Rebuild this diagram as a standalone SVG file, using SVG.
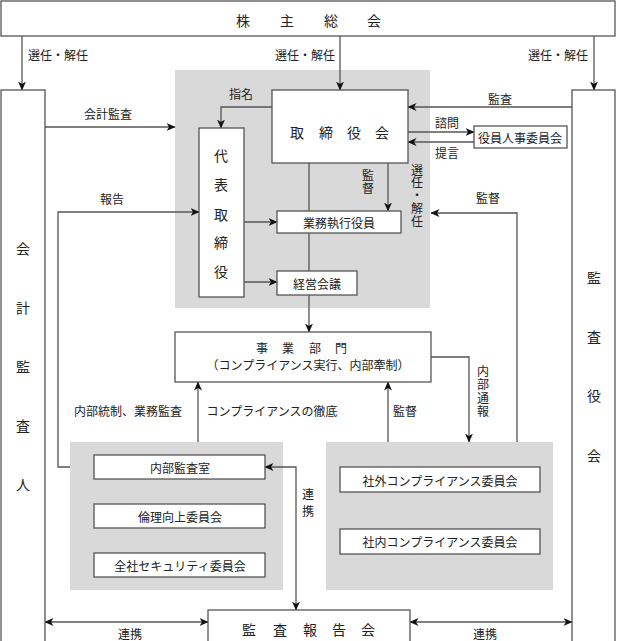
<svg xmlns="http://www.w3.org/2000/svg" width="617" height="641" viewBox="0 0 617 641">
<defs>
<style>
text{font-family:"Noto Sans CJK JP","Noto Sans CJK SC",sans-serif;fill:#222;font-size:12px;text-anchor:middle;dominant-baseline:central}
.big{font-size:14px}
.v{writing-mode:vertical-rl;glyph-orientation-vertical:0}
.box{fill:#fff;stroke:#555;stroke-width:1.3}
.grp{fill:#d9d9d9;stroke:none}
.ln{fill:none;stroke:#555;stroke-width:1.3}
.a{marker-end:url(#ah)}
.aa{marker-end:url(#ah);marker-start:url(#ah)}
</style>
<marker id="ah" viewBox="0 0 9 8" refX="8.5" refY="4" markerWidth="9" markerHeight="8" markerUnits="userSpaceOnUse" orient="auto-start-reverse">
<path d="M0,0 L9,4 L0,8 L2.5,4 z" fill="#111"/>
</marker>
</defs>
<rect width="617" height="641" fill="#fff"/>

<g id="groups">
<rect class="grp" x="175" y="70" width="255" height="238"/>
<rect class="grp" x="70" y="442" width="213" height="148"/>
<rect class="grp" x="326" y="442" width="227" height="148"/>
</g>

<g id="connectors">
<path class="ln a" d="M22,36 V90"/>
<path class="ln a" d="M340,36 V90"/>
<path class="ln a" d="M594,36 V90"/>
<path class="ln a" d="M272,107 H221 V128"/>
<path class="ln a" d="M45,127 H175"/>
<path class="ln a" d="M70,467 H58 V212 H199"/>
<path class="ln a" d="M572,107 H408"/>
<path class="ln a" d="M408,132 H474"/>
<path class="ln a" d="M474,142 H408"/>
<path class="ln a" d="M388,163 V211"/>
<path class="ln" d="M309,163 V211 M309,233 V271"/>
<path class="ln a" d="M309,295 V332"/>
<path class="ln a" d="M244,222 H277"/>
<path class="ln a" d="M244,282 H277"/>
<path class="ln a" d="M517,442 V213 H431"/>
<path class="ln a" d="M431,357 H469 V442"/>
<path class="ln a" d="M388,442 V382"/>
<path class="ln a" d="M198,442 V382"/>
<path class="ln aa" d="M296,610 V467 H265"/>
<path class="ln aa" d="M45,622 H208"/>
<path class="ln aa" d="M410,622 H572"/>
</g>

<g id="labels">
<text x="58" y="54">選任・解任</text>
<text x="305" y="54">選任・解任</text>
<text x="558" y="54">選任・解任</text>
<text x="241" y="93">指名</text>
<text x="108" y="113">会計監査</text>
<text x="112" y="198">報告</text>
<text x="500" y="98">監査</text>
<text x="447" y="122">諮問</text>
<text x="447" y="152">提言</text>
<text class="v" x="368" y="182" style="letter-spacing:1px">監督</text>
<text class="v" x="417" y="196" style="letter-spacing:0.8px">選任・解任</text>
<text x="488" y="197">監督</text>
<text class="v" x="483" y="392" style="letter-spacing:1.3px">内部通報</text>
<text x="128" y="410">内部統制、業務監査</text>
<text x="272" y="410">コンプライアンスの徹底</text>
<text x="405" y="410">監督</text>
<text class="v" x="308" y="505" style="letter-spacing:5px">連携</text>
<text x="130" y="633">連携</text>
<text x="485" y="633">連携</text>
</g>

<g id="shareholders">
<rect class="box" x="1" y="1" width="614" height="35"/>
<text class="big" x="243" y="20">株</text>
<text class="big" x="287" y="20">主</text>
<text class="big" x="331" y="20">総</text>
<text class="big" x="374" y="20">会</text>
</g>

<g id="accounting-auditor">
<rect class="box" x="1" y="90" width="44" height="560"/>
<text class="big" x="23" y="248">会</text>
<text class="big" x="23" y="307">計</text>
<text class="big" x="23" y="366">監</text>
<text class="big" x="23" y="425">査</text>
<text class="big" x="23" y="484">人</text>
</g>

<g id="audit-board">
<rect class="box" x="572" y="90" width="43" height="560"/>
<text class="big" x="594" y="277">監</text>
<text class="big" x="594" y="336">査</text>
<text class="big" x="594" y="395">役</text>
<text class="big" x="594" y="455">会</text>
</g>

<g id="board">
<rect class="box" x="272" y="90" width="136" height="73"/>
<text class="big" x="297" y="132">取</text>
<text class="big" x="326" y="132">締</text>
<text class="big" x="354" y="132">役</text>
<text class="big" x="382" y="132">会</text>
</g>

<g id="representative">
<rect class="box" x="199" y="128" width="45" height="169"/>
<text class="big" x="221" y="155">代</text>
<text class="big" x="221" y="184">表</text>
<text class="big" x="221" y="214">取</text>
<text class="big" x="221" y="242">締</text>
<text class="big" x="221" y="271">役</text>
</g>

<g id="executive-officers">
<rect class="box" x="277" y="211" width="124" height="22"/>
<text x="339" y="222">業務執行役員</text>
</g>

<g id="management-meeting">
<rect class="box" x="277" y="271" width="80" height="24"/>
<text x="317" y="283">経営会議</text>
</g>

<g id="nomination-committee">
<rect class="box" x="474" y="126" width="93" height="22"/>
<text x="520" y="137">役員人事委員会</text>
</g>

<g id="business-division">
<rect class="box" x="175" y="332" width="256" height="50"/>
<text x="262" y="347">事</text>
<text x="288" y="347">業</text>
<text x="315" y="347">部</text>
<text x="341" y="347">門</text>
<text x="308" y="364">（コンプライアンス実行、内部牽制）</text>
</g>

<g id="internal-audit">
<rect class="box" x="94" y="455" width="171" height="24"/>
<text x="180" y="467">内部監査室</text>
</g>

<g id="ethics-committee">
<rect class="box" x="94" y="504" width="171" height="24"/>
<text x="180" y="516">倫理向上委員会</text>
</g>

<g id="security-committee">
<rect class="box" x="94" y="553" width="171" height="24"/>
<text x="180" y="565">全社セキュリティ委員会</text>
</g>

<g id="external-compliance">
<rect class="box" x="340" y="467" width="200" height="25"/>
<text x="440" y="480">社外コンプライアンス委員会</text>
</g>

<g id="internal-compliance">
<rect class="box" x="340" y="529" width="200" height="25"/>
<text x="440" y="541">社内コンプライアンス委員会</text>
</g>

<g id="audit-report-meeting">
<rect class="box" x="208" y="610" width="202" height="40"/>
<text class="big" x="249" y="629">監</text>
<text class="big" x="280" y="629">査</text>
<text class="big" x="310" y="629">報</text>
<text class="big" x="339" y="629">告</text>
<text class="big" x="368" y="629">会</text>
</g>
</svg>
